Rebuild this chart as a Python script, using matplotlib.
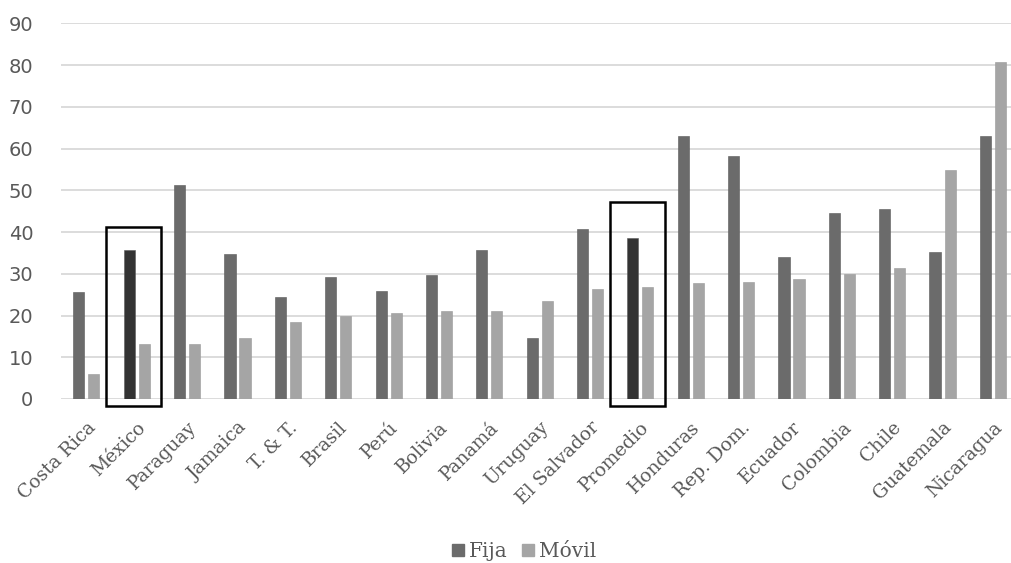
import matplotlib
matplotlib.use("Agg")
import matplotlib.pyplot as plt
from matplotlib.patches import Rectangle
from matplotlib.lines import Line2D
import numpy as np

categories = ["Costa Rica", "México", "Paraguay", "Jamaica", "T. & T.", "Brasil", "Perú",
              "Bolivia", "Panamá", "Uruguay", "El Salvador", "Promedio", "Honduras",
              "Rep. Dom.", "Ecuador", "Colombia", "Chile", "Guatemala", "Nicaragua"]
fija = [25.7, 35.7, 51.2, 34.7, 24.4, 29.2, 25.9, 29.6, 35.7, 14.5, 40.8, 38.5, 62.9,
        58.3, 33.9, 44.6, 45.5, 35.2, 62.9]
movil = [6.1, 13.2, 13.2, 14.5, 18.4, 19.9, 20.7, 21.2, 21.2, 23.5, 26.3, 26.8, 27.7,
         28.1, 28.7, 30.0, 31.5, 54.9, 80.8]
highlighted = ["México", "Promedio"]
box_tops = {"México": 41.3, "Promedio": 47.2}
yticks = [0, 10, 20, 30, 40, 50, 60, 70, 80, 90]

c_fija = "#6b6b6b"
c_fija_hi = "#333333"
c_movil = "#a5a5a5"
txt = "#595959"
serif = ["DejaVu Serif"]

fig = plt.figure(figsize=(10.11, 5.63), dpi=100)
ax = fig.add_axes([0.0606, 0.2913, 0.9464, 0.6673])

x = np.arange(len(categories))
w = 0.22
off = 0.149
fcolors = [c_fija_hi if c in highlighted else c_fija for c in categories]
ax.bar(x - off, fija, width=w, color=fcolors, edgecolor="#5a5a5a", linewidth=0.4, zorder=3, label="Fija")
ax.bar(x + off, movil, width=w, color=c_movil, edgecolor="#999999", linewidth=0.4, zorder=3, label="Móvil")

for c in highlighted:
    i = categories.index(c)
    top = box_tops[c]
    ax.add_patch(Rectangle((i - 0.61, -1.7), 1.09, top + 1.7, fill=False,
                           edgecolor="black", linewidth=1.8, clip_on=False, zorder=4))

ax.set_xlim(-0.5, len(categories) - 0.5)
ax.set_ylim(0, 90)
ax.set_yticks(yticks)
ax.yaxis.grid(True, color="#d9d9d9", linewidth=1.3, zorder=0)
ax.set_axisbelow(True)
for s in ax.spines.values():
    s.set_visible(False)
ax.tick_params(axis="both", length=0)
ax.tick_params(axis="y", labelsize=14, labelcolor=txt, pad=20)
ax.set_xticks(x)
ax.set_xticklabels(categories, rotation=45, ha="right", va="top", rotation_mode="anchor",
                   fontsize=13.5, color=txt, family=serif)
ax.tick_params(axis="x", pad=14)

handles = [Line2D([], [], marker="s", linestyle="none", markersize=8.5, color=c_fija),
           Line2D([], [], marker="s", linestyle="none", markersize=8.5, color=c_movil)]
fig.legend(handles, ["Fija", "Móvil"], loc="center", bbox_to_anchor=(0.518, 0.02),
           ncol=2, frameon=False, handlelength=0.6, handletextpad=0.25, columnspacing=0.7,
           prop={"family": serif, "size": 14.5}, labelcolor=txt)

fig.savefig("out.png", dpi=100)
